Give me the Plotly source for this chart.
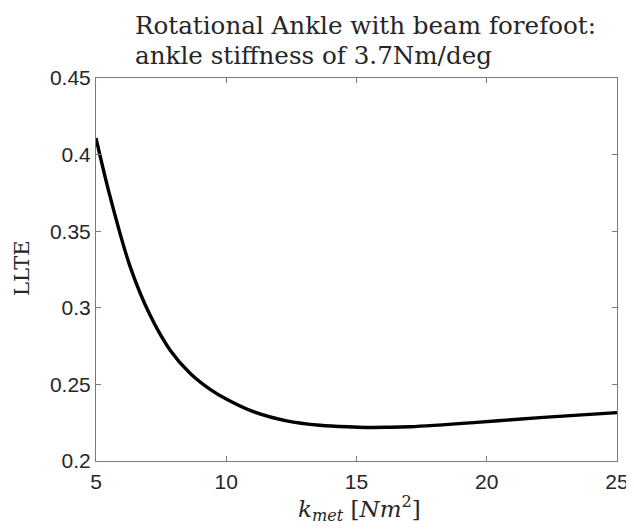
import plotly.graph_objects as go

k_met = [5, 5.54, 6.31, 7.07, 7.84, 8.61, 9.38, 10.07, 11.04, 12.32, 13.6,
         14.88, 15.5, 16.16, 17.05, 19.61, 22.17, 25]
llte = [0.4108, 0.3727, 0.3269, 0.2954, 0.2725, 0.2573, 0.2468, 0.2398, 0.2322,
        0.2262, 0.2233, 0.2222, 0.2219, 0.2220, 0.2224, 0.2252, 0.2285, 0.2316]

x_ticks = [5, 10, 15, 20, 25]
y_ticks = [0.2, 0.25, 0.3, 0.35, 0.4, 0.45]
y_tick_labels = ["0.2", "0.25", "0.3", "0.35", "0.4", "0.45"]

title_lines = ["Rotational Ankle with beam forefoot:", "ankle stiffness of 3.7Nm/deg"]

# the page body adds an 8 px offset; size the figure so the plot lands where the reference has it
OFF = 8
W, H = 634 - OFF, 529 - OFF
L, R, T, B = 96 - OFF, 17, 78 - OFF, 68
PW, PH = W - L - R, H - T - B

fig = go.Figure()
fig.add_trace(go.Scatter(x=k_met, y=llte, mode="lines",
                         line=dict(color="black", width=3.4, shape="spline", smoothing=1.0),
                         showlegend=False, hoverinfo="skip"))

tickfont = dict(family="Liberation Sans, Arial, sans-serif", size=21, color="#262626")
axis_common = dict(showgrid=False, zeroline=False, showline=True, linecolor="#7a7a7a",
                   linewidth=1, mirror="ticks", ticks="inside", ticklen=5,
                   tickcolor="#7a7a7a", tickfont=tickfont, automargin=False)

def px_to_paper(px_x, px_y):
    # px are page pixels of the reference
    return (px_x - OFF - L) / PW, (H - B - (px_y - OFF)) / PH

serif = "DejaVu Serif, serif"
anns = []
for text, cy in zip(title_lines, [26, 55]):
    ax, ay = px_to_paper(133, cy)
    anns.append(dict(text=text, x=ax, y=ay, xref="paper", yref="paper",
                     xanchor="left", yanchor="middle", showarrow=False,
                     font=dict(family=serif, size=24.6, color="#262626")))
ax, ay = px_to_paper(22, 268)
anns.append(dict(text="LLTE", x=ax, y=ay, xref="paper", yref="paper", textangle=-90,
                 xanchor="center", yanchor="middle", showarrow=False,
                 font=dict(family=serif, size=21, color="#262626")))
ax, ay = px_to_paper(359, 508)
anns.append(dict(text="<i>k</i><sub><i>met</i></sub> [<i>Nm</i><sup>2</sup>]", x=ax, y=ay,
                 xref="paper", yref="paper", xanchor="center", yanchor="middle",
                 showarrow=False, font=dict(family=serif, size=23, color="#262626")))

fig.update_layout(
    width=W, height=H,
    margin=dict(l=L, r=R, t=T, b=B),
    paper_bgcolor="white", plot_bgcolor="white",
    xaxis=dict(range=[5, 25], tickvals=x_ticks, ticklabelstandoff=2, **axis_common),
    yaxis=dict(range=[0.2, 0.45], tickvals=y_ticks, ticktext=y_tick_labels, **axis_common),
    annotations=anns,
)

fig.write_html("out.html")
